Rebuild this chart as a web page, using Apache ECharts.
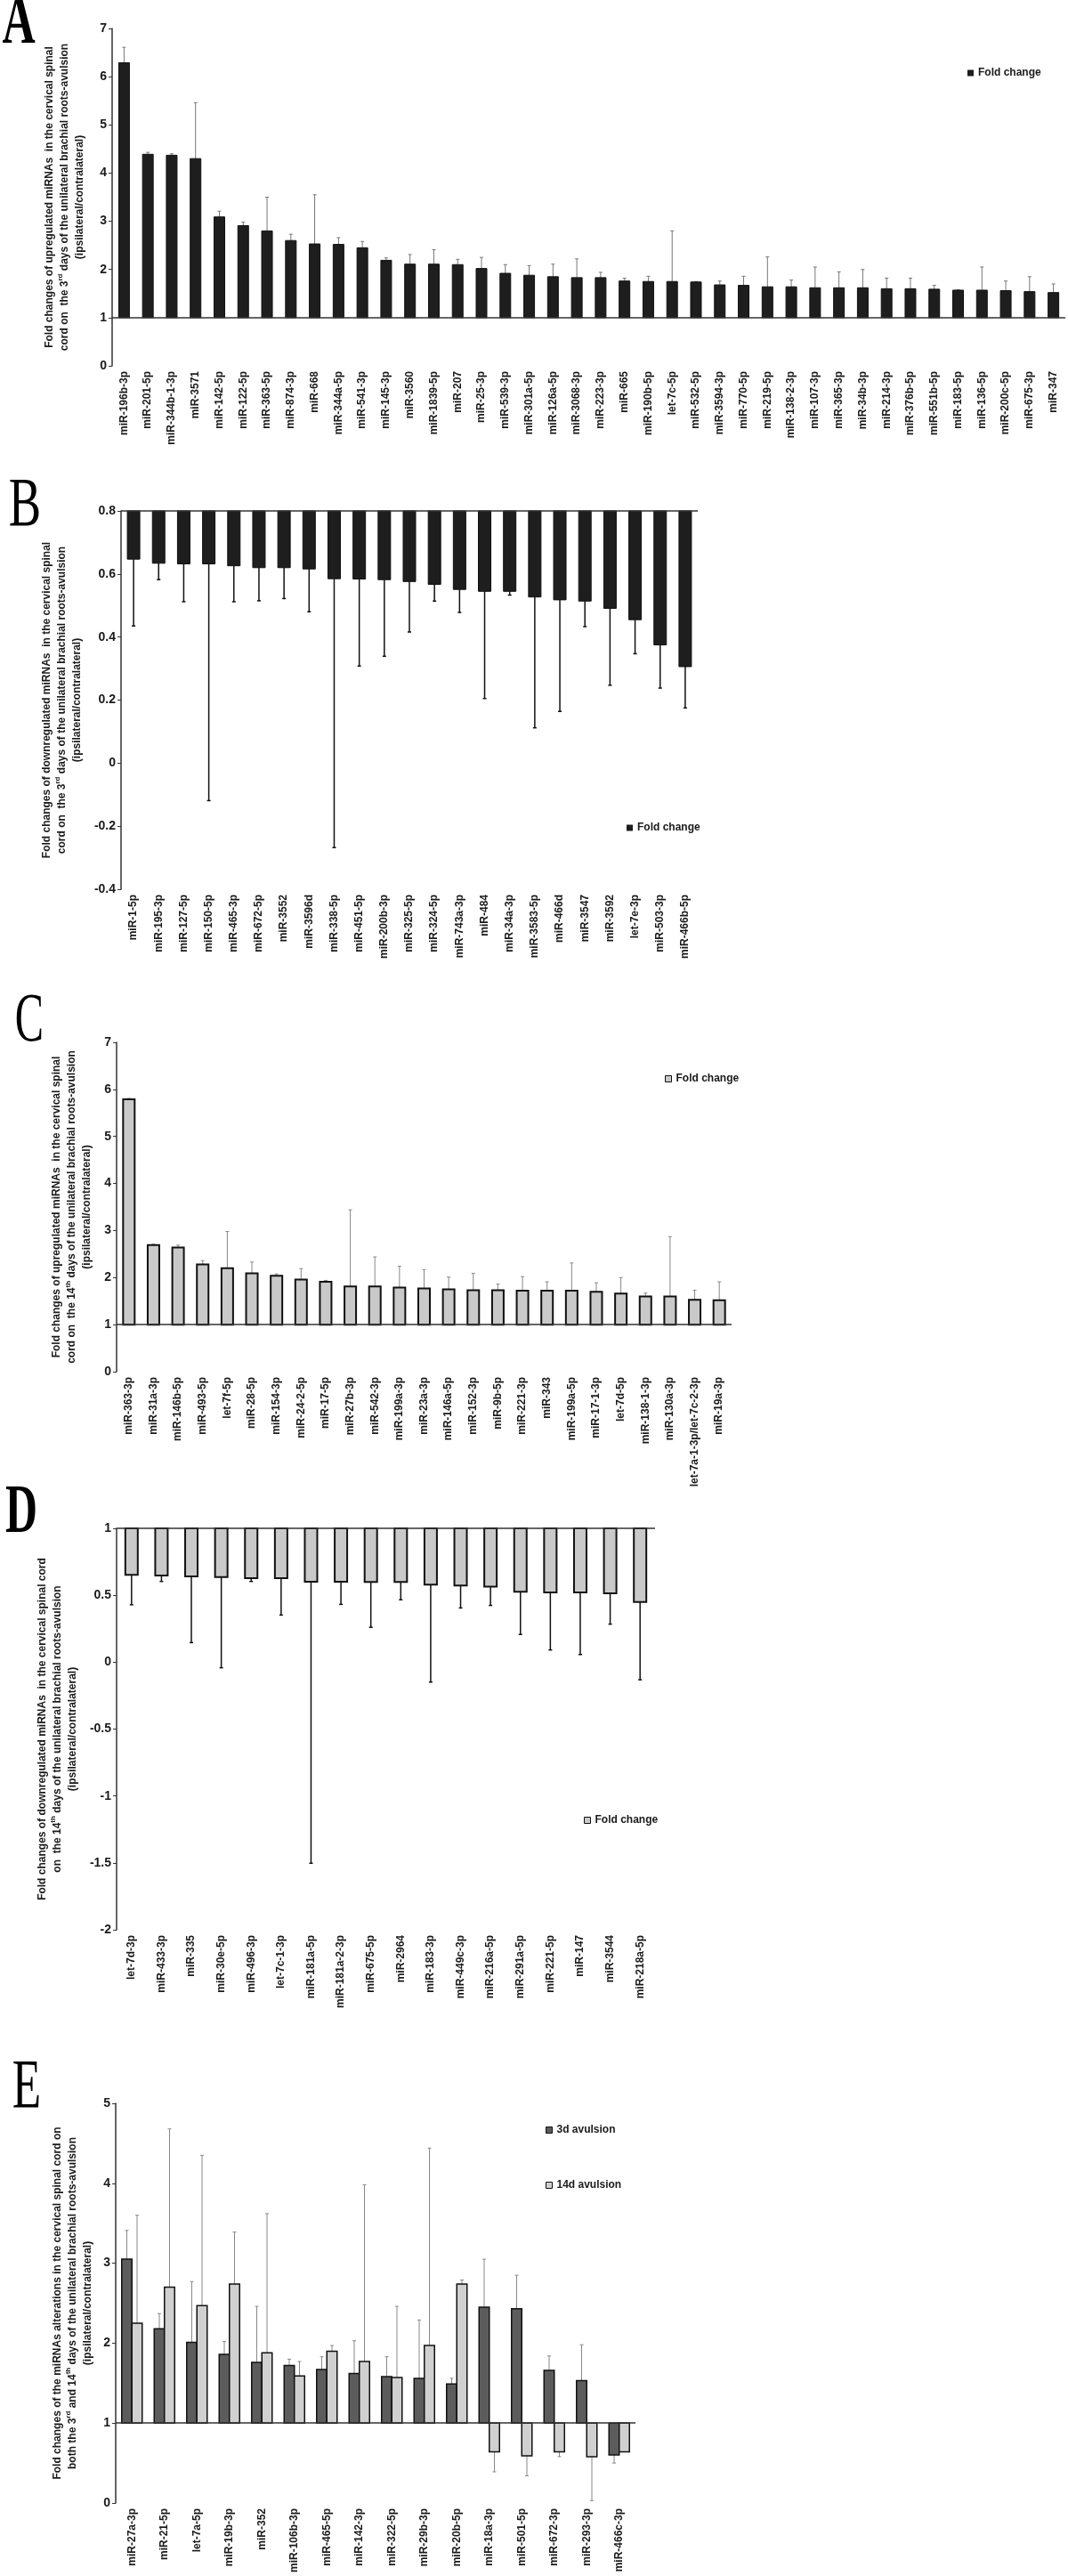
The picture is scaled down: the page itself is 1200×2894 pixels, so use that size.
<!DOCTYPE html>
<html>
<head>
<meta charset="utf-8">
<title>miRNA fold changes</title>
<script src="https://cdn.jsdelivr.net/npm/echarts@6.0.0/dist/echarts.min.js"></script>
<style>
  body {margin: 0; background: #fff;}
  #chart {width: 1200px; height: 2894px;}
</style>
</head>
<body>
<div id="chart"></div>
<script>
// A - upregulated, 3rd day
var aNames = ['miR-196b-3p', 'miR-201-5p', 'miR-344b-1-3p', 'miR-3571', 'miR-142-5p', 'miR-122-5p', 'miR-363-5p', 'miR-874-3p',
  'miR-668', 'miR-344a-5p', 'miR-541-3p', 'miR-145-3p', 'miR-3560', 'miR-1839-5p', 'miR-207', 'miR-25-3p', 'miR-539-3p',
  'miR-301a-5p', 'miR-126a-5p', 'miR-3068-3p', 'miR-223-3p', 'miR-665', 'miR-190b-5p', 'let-7c-5p', 'miR-532-5p',
  'miR-3594-3p', 'miR-770-5p', 'miR-219-5p', 'miR-138-2-3p', 'miR-107-3p', 'miR-365-3p', 'miR-34b-3p', 'miR-214-3p',
  'miR-376b-5p', 'miR-551b-5p', 'miR-183-5p', 'miR-136-5p', 'miR-200c-5p', 'miR-675-3p', 'miR-347'];
var aFold = [6.29, 4.39, 4.37, 4.30, 3.09, 2.91, 2.80, 2.60, 2.53, 2.52, 2.45, 2.19, 2.11, 2.11, 2.10, 2.02, 1.92, 1.88,
  1.85, 1.83, 1.83, 1.76, 1.75, 1.75, 1.74, 1.68, 1.67, 1.64, 1.64, 1.62, 1.62, 1.62, 1.60, 1.60, 1.59, 1.57, 1.57, 1.56, 1.54, 1.52];
var aErrTop = [6.61, 4.43, 4.40, 5.46, 3.21, 2.98, 3.50, 2.73, 3.55, 2.66, 2.58, 2.24, 2.31, 2.41, 2.21, 2.25, 2.10, 2.08,
  2.11, 2.22, 1.94, 1.82, 1.86, 2.80, 1.75, 1.76, 1.86, 2.26, 1.78, 2.05, 1.95, 2.00, 1.82, 1.82, 1.67, 1.58, 2.05, 1.76, 1.85, 1.70];

// B - downregulated, 3rd day
var bNames = ['miR-1-5p', 'miR-195-3p', 'miR-127-5p', 'miR-150-5p', 'miR-465-3p', 'miR-672-5p', 'miR-3552', 'miR-3596d',
  'miR-338-5p', 'miR-451-5p', 'miR-200b-3p', 'miR-325-5p', 'miR-324-5p', 'miR-743a-3p', 'miR-484', 'miR-34a-3p',
  'miR-3583-5p', 'miR-466d', 'miR-3547', 'miR-3592', 'let-7e-3p', 'miR-503-3p', 'miR-466b-5p'];
var bFold = [0.647, 0.634, 0.632, 0.632, 0.626, 0.620, 0.620, 0.616, 0.585, 0.584, 0.582, 0.576, 0.567, 0.551, 0.545,
  0.545, 0.527, 0.518, 0.514, 0.491, 0.455, 0.375, 0.306];
var bErrLow = [0.435, 0.582, 0.512, -0.119, 0.512, 0.515, 0.522, 0.480, -0.268, 0.308, 0.339, 0.416, 0.514, 0.478, 0.205,
  0.533, 0.112, 0.164, 0.433, 0.247, 0.347, 0.238, 0.175];

// C - upregulated, 14th day
var cNames = ['miR-363-3p', 'miR-31a-3p', 'miR-146b-5p', 'miR-493-5p', 'let-7f-5p', 'miR-28-5p', 'miR-154-3p', 'miR-24-2-5p',
  'miR-17-5p', 'miR-27b-3p', 'miR-542-3p', 'miR-199a-3p', 'miR-23a-3p', 'miR-146a-5p', 'miR-152-3p', 'miR-9b-5p',
  'miR-221-3p', 'miR-343', 'miR-199a-5p', 'miR-17-1-3p', 'let-7d-5p', 'miR-138-1-3p', 'miR-130a-3p',
  'let-7a-1-3p/let-7c-2-3p', 'miR-19a-3p'];
var cFold = [5.79, 2.69, 2.64, 2.28, 2.20, 2.09, 2.04, 1.96, 1.91, 1.81, 1.81, 1.79, 1.77, 1.75, 1.73, 1.73, 1.72, 1.72,
  1.72, 1.70, 1.66, 1.60, 1.60, 1.53, 1.52];
var cErrTop = [5.81, 2.71, 2.69, 2.36, 2.98, 2.33, 2.08, 2.19, 1.94, 3.44, 2.44, 2.24, 2.17, 2.01, 2.09, 1.86, 2.02, 1.91,
  2.31, 1.89, 2.00, 1.67, 2.87, 1.73, 1.91];

// D - downregulated, 14th day
var dNames = ['let-7d-3p', 'miR-433-3p', 'miR-335', 'miR-30e-5p', 'miR-496-3p', 'let-7c-1-3p', 'miR-181a-5p',
  'miR-181a-2-3p', 'miR-675-5p', 'miR-2964', 'miR-183-3p', 'miR-449c-3p', 'miR-216a-5p', 'miR-291a-5p', 'miR-221-5p',
  'miR-147', 'miR-3544', 'miR-218a-5p'];
var dFold = [0.652, 0.647, 0.640, 0.635, 0.628, 0.628, 0.601, 0.601, 0.599, 0.599, 0.579, 0.572, 0.565, 0.526, 0.521,
  0.521, 0.514, 0.449];
var dErrLow = [0.429, 0.603, 0.146, -0.042, 0.603, 0.352, -1.503, 0.432, 0.260, 0.466, -0.149, 0.405, 0.424, 0.207, 0.091,
  0.057, 0.284, -0.132];

// E - both time points
var eNames = ['miR-27a-3p', 'miR-21-5p', 'let-7a-5p', 'miR-19b-3p', 'miR-352', 'miR-106b-3p', 'miR-465-5p', 'miR-142-3p',
  'miR-322-5p', 'miR-29b-3p', 'miR-20b-5p', 'miR-18a-3p', 'miR-501-5p', 'miR-672-3p', 'miR-293-3p', 'miR-466c-3p'];
var e3d = [3.05, 2.18, 2.01, 1.86, 1.76, 1.72, 1.67, 1.62, 1.58, 1.56, 1.49, 2.45, 2.43, 1.66, 1.53, 0.60];
var e3dErr = [3.41, 2.37, 2.77, 2.02, 2.46, 1.80, 1.83, 2.03, 1.83, 2.29, 1.56, 3.05, 2.85, 1.84, 1.98, 0.50];
var e14d = [2.25, 2.70, 2.47, 2.74, 1.88, 1.59, 1.90, 1.77, 1.57, 1.97, 2.74, 0.64, 0.59, 0.64, 0.58, 0.64];
var e14dErr = [3.60, 4.68, 4.35, 3.39, 3.62, 1.77, 1.97, 3.98, 2.46, 4.44, 2.79, 0.39, 0.34, 0.58, 0.03, 0.64];

var FONT = 'Liberation Sans';
var INK = '#1a1a1a';

function toData(vals, errs) {
    return vals.map(function (v, i) { return [i, v, errs[i]]; });
}

// bar that grows from base (1 or top of axis), error bar goes outward
function barRender(base, width, offset, st) {
    return function (params, api) {
        var i = api.value(0);
        var p0 = api.coord([i, base]);
        var p1 = api.coord([i, api.value(1)]);
        var pe = api.coord([i, api.value(2)]);
        var cx = p0[0] + offset;
        var errStyle = {stroke: st.err, lineWidth: st.errWidth};
        return {
            type: 'group',
            children: [
                {type: 'line', shape: {x1: cx, y1: p1[1], x2: cx, y2: pe[1]}, style: errStyle},
                {type: 'line', shape: {x1: cx - 2, y1: pe[1], x2: cx + 2, y2: pe[1]}, style: errStyle},
                {type: 'rect', shape: {x: cx - width / 2, y: Math.min(p0[1], p1[1]), width: width, height: Math.abs(p1[1] - p0[1])},
                    style: {fill: st.fill, stroke: st.stroke, lineWidth: st.lineWidth}}
            ]
        };
    };
}

function baseLine(v) {
    return {
        silent: true, symbol: 'none', label: {show: false},
        lineStyle: {color: '#333', width: 1.5, type: 'solid'},
        data: [{yAxis: v}]
    };
}

function xAx(grid, names) {
    return {
        type: 'category', gridIndex: grid, data: names,
        axisLine: {show: false}, axisTick: {show: false},
        axisLabel: {interval: 0, rotate: 90, margin: 6, fontFamily: FONT, fontWeight: 'bold', fontSize: 12, color: INK}
    };
}

function yAx(grid, min, max, step, name, gap) {
    return {
        type: 'value', gridIndex: grid, min: min, max: max, interval: step,
        splitLine: {show: false},
        axisLine: {show: true, lineStyle: {color: '#333', width: 1.5}},
        axisTick: {show: true, length: 4, lineStyle: {color: '#333'}},
        axisLabel: {margin: 6, fontFamily: FONT, fontWeight: 'bold', fontSize: 14, color: INK,
            formatter: function (v) { return String(+v.toFixed(2)); }},
        name: name, nameLocation: 'middle', nameRotate: 90, nameGap: gap,
        nameTextStyle: {
            fontFamily: FONT, fontWeight: 'bold', fontSize: 12, lineHeight: 17, color: INK, align: 'center',
            rich: {sup: {fontFamily: FONT, fontWeight: 'bold', fontSize: 8, lineHeight: 17, verticalAlign: 'top', color: INK}}
        }
    };
}

function legendAt(left, top, items, vertical) {
    return {
        left: left, top: top, orient: vertical ? 'vertical' : 'horizontal', itemGap: 50,
        icon: 'rect', itemWidth: 7, itemHeight: 7, selectedMode: false,
        textStyle: {fontFamily: FONT, fontWeight: 'bold', fontSize: 12, color: INK},
        data: items
    };
}

// panel letters, tall and narrow serif
function letter(ch, x, y, sx, bold) {
    return {
        type: 'text', x: x, y: y, scaleX: sx,
        style: {text: ch, fontFamily: 'Liberation Serif', fontSize: 78, fontWeight: bold ? 'bold' : 'normal', fill: '#000',
            align: 'center', verticalAlign: 'middle', textAlign: 'center', textVerticalAlign: 'middle'}
    };
}

var darkBar = {fill: '#1e1e1e', stroke: '#111', lineWidth: 1, err: '#777', errWidth: 1};
var darkBarB = {fill: '#1e1e1e', stroke: '#111', lineWidth: 1, err: '#111', errWidth: 1.5};
var greyBar = {fill: '#c9c9c9', stroke: '#111', lineWidth: 2, err: '#888', errWidth: 1};
var greyBarD = {fill: '#c9c9c9', stroke: '#111', lineWidth: 2, err: '#111', errWidth: 1.5};
var e3Bar = {fill: '#5c5c5c', stroke: '#111', lineWidth: 1.5, err: '#888', errWidth: 1};
var e14Bar = {fill: '#d0d0d0', stroke: '#111', lineWidth: 1.5, err: '#888', errWidth: 1};

var nameA = 'Fold changes of upregulated miRNAs  in the cervical spinal\ncord on  the 3{sup|rd} days of the unilateral brachial roots-avulsion\n(ipsilateral/contralateral)';
var nameB = 'Fold changes of downregulated miRNAs  in the cervical spinal\ncord on  the 3{sup|rd} days of the unilateral brachial roots-avulsion\n(ipsilateral/contralateral)';
var nameC = 'Fold changes of upregulated miRNAs  in the cervical spinal\ncord on  the 14{sup|th} days of the unilateral brachial roots-avulsion\n(ipsilateral/contralateral)';
var nameD = 'Fold changes of downregulated miRNAs  in the cervical spinal cord\non  the 14{sup|th} days of the unilateral brachial roots-avulsion\n(ipsilateral/contralateral)';
var nameE = 'Fold changes of the miRNAs alterations in the cervical spinal cord on\nboth the 3{sup|rd} and 14{sup|th} days of the unilateral brachial roots-avulsion\n(ipsilateral/contralateral)';

var chart = echarts.init(document.getElementById('chart'));
chart.setOption({
    backgroundColor: '#fff',
    animation: false,
    grid: [
        {left: 126, top: 32, width: 1071, height: 379, outerBoundsMode: 'none'},
        {left: 136, top: 574, width: 648, height: 425, outerBoundsMode: 'none'},
        {left: 131, top: 1171, width: 691, height: 370, outerBoundsMode: 'none'},
        {left: 131, top: 1717, width: 605, height: 451, outerBoundsMode: 'none'},
        {left: 130, top: 2363, width: 584, height: 449, outerBoundsMode: 'none'}
    ],
    xAxis: [xAx(0, aNames), xAx(1, bNames), xAx(2, cNames), xAx(3, dNames), xAx(4, eNames)],
    yAxis: [
        yAx(0, 0, 7, 1, nameA, 28),
        yAx(1, -0.4, 0.8, 0.2, nameB, 32),
        yAx(2, 0, 7, 1, nameC, 24),
        yAx(3, -2, 1, 0.5, nameD, 31),
        yAx(4, 0, 5, 1, nameE, 23)
    ],
    legend: [
        legendAt(1082, 71, [{name: 'Fold change', itemStyle: {color: '#1e1e1e'}}]),
        legendAt(699, 919, [{name: 'Fold change', itemStyle: {color: '#1e1e1e'}}]),
        legendAt(742, 1201, [{name: 'Fold change', itemStyle: {color: '#c9c9c9', borderColor: '#111', borderWidth: 1}}]),
        legendAt(651, 2034, [{name: 'Fold change', itemStyle: {color: '#c9c9c9', borderColor: '#111', borderWidth: 1}}]),
        legendAt(608, 2382, [
            {name: '3d avulsion', itemStyle: {color: '#5c5c5c', borderColor: '#111', borderWidth: 1}},
            {name: '14d avulsion', itemStyle: {color: '#d0d0d0', borderColor: '#111', borderWidth: 1}}
        ], true)
    ],
    graphic: [
        letter('A', 21, 28, 0.66, true),
        letter('B', 28, 570, 0.7, false),
        letter('C', 33, 1149, 0.62, false),
        letter('D', 24, 1701, 0.64, true),
        letter('E', 30, 2347, 0.68, false)
    ],
    series: [
        {type: 'custom', name: 'Fold change', xAxisIndex: 0, yAxisIndex: 0, itemStyle: {color: '#1e1e1e'},
            renderItem: barRender(1, 12, 0, darkBar), data: toData(aFold, aErrTop), markLine: baseLine(1)},
        {type: 'custom', name: 'Fold change', xAxisIndex: 1, yAxisIndex: 1, itemStyle: {color: '#1e1e1e'},
            renderItem: barRender(0.8, 14, 0, darkBarB), data: toData(bFold, bErrLow), markLine: baseLine(0.8)},
        {type: 'custom', name: 'Fold change', xAxisIndex: 2, yAxisIndex: 2, itemStyle: {color: '#c9c9c9'},
            renderItem: barRender(1, 13, 0, greyBar), data: toData(cFold, cErrTop), markLine: baseLine(1)},
        {type: 'custom', name: 'Fold change', xAxisIndex: 3, yAxisIndex: 3, itemStyle: {color: '#c9c9c9'},
            renderItem: barRender(1, 14, 0, greyBarD), data: toData(dFold, dErrLow), markLine: baseLine(1)},
        {type: 'custom', name: '3d avulsion', xAxisIndex: 4, yAxisIndex: 4, itemStyle: {color: '#5c5c5c'},
            renderItem: barRender(1, 11.5, -5.75, e3Bar), data: toData(e3d, e3dErr), markLine: baseLine(1)},
        {type: 'custom', name: '14d avulsion', xAxisIndex: 4, yAxisIndex: 4, itemStyle: {color: '#d0d0d0'},
            renderItem: barRender(1, 11.5, 5.75, e14Bar), data: toData(e14d, e14dErr)}
    ]
});
</script>
</body>
</html>
